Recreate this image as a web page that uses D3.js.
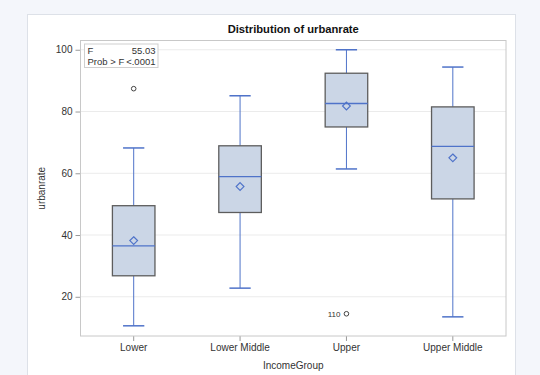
<!DOCTYPE html>
<html>
<head>
<meta charset="utf-8">
<script src="https://cdn.jsdelivr.net/npm/d3@7"></script>
<style>
  body { margin: 0; background: #f4f6fb; }
  svg { display: block; font-family: "Liberation Sans", Arial, sans-serif; }
</style>
</head>
<body>
<svg id="chart" width="540" height="375"></svg>
<script>
// income groups and their box stats
const groups = ["Lower", "Lower Middle", "Upper", "Upper Middle"];
const whiskerLow = [10.6, 22.8, 61.4, 13.5];
const q1 = [26.8, 47.3, 75.0, 51.7];
const median = [36.5, 58.9, 82.6, 68.7];
const q3 = [49.5, 68.9, 92.4, 81.5];
const whiskerHigh = [68.2, 85.1, 100, 94.4];
const means = [38.2, 55.7, 81.8, 65.0];
const outliers = [
  { group: "Lower", value: 87.4, label: "" },
  { group: "Upper", value: 14.5, label: "110" }
];
const yTicks = [20, 40, 60, 80, 100];
const statLines = [["F", "55.03"], ["Prob > F", "<.0001"]];

const boxes = groups.map((g, i) => ({
  group: g, lo: whiskerLow[i], q1: q1[i], med: median[i],
  q3: q3[i], hi: whiskerHigh[i], mean: means[i]
}));

const svg = d3.select("#chart");
const margin = { left: 80.5, top: 40.5, right: 34, bottom: 39 };
const width = 540 - margin.left - margin.right;
const height = 375 - margin.top - margin.bottom;
const blue = "#4f73c9";

// white panel behind the graph
svg.append("rect")
  .attr("x", 27.5).attr("y", 14.5)
  .attr("width", 488).attr("height", 370)
  .attr("fill", "#fff").attr("stroke", "#dde1e8");

const g = svg.append("g").attr("transform", `translate(${margin.left},${margin.top})`);

const x = d3.scaleBand().domain(groups).range([0, width]).padding(0);
const y = d3.scaleLinear().domain([7.3, 103]).range([height, 0]);

// grid
g.selectAll(".grid")
  .data(yTicks)
  .enter()
  .append("line")
  .attr("x1", 0).attr("x2", width)
  .attr("y1", d => y(d)).attr("y2", d => y(d))
  .attr("stroke", "#ebebeb");

// axes
const yAxis = g.append("g").call(d3.axisLeft(y).tickValues(yTicks).tickSize(5).tickPadding(3));
const xAxis = g.append("g").attr("transform", `translate(0,${height})`)
  .call(d3.axisBottom(x).tickSize(5).tickPadding(3));
[yAxis, xAxis].forEach(a => {
  a.select(".domain").remove();
  a.selectAll("line").attr("stroke", "#999");
  a.selectAll("text").attr("fill", "#333").style("font-size", "10px");
});

// plot frame
g.append("rect")
  .attr("width", width).attr("height", height)
  .attr("fill", "none").attr("stroke", "#c8c8c8");

const bw = x.bandwidth() * 0.4;
const cap = bw / 2;

const box = g.selectAll(".box")
  .data(boxes)
  .enter()
  .append("g")
  .attr("class", "box")
  .attr("transform", d => `translate(${x(d.group) + x.bandwidth() / 2},0)`);

// whiskers
box.append("line")
  .attr("x1", 0).attr("x2", 0)
  .attr("y1", d => y(d.hi)).attr("y2", d => y(d.q3))
  .attr("stroke", blue);
box.append("line")
  .attr("x1", 0).attr("x2", 0)
  .attr("y1", d => y(d.q1)).attr("y2", d => y(d.lo))
  .attr("stroke", blue);
box.append("line")
  .attr("x1", -cap / 2).attr("x2", cap / 2)
  .attr("y1", d => y(d.hi)).attr("y2", d => y(d.hi))
  .attr("stroke", blue).attr("stroke-width", 1.5);
box.append("line")
  .attr("x1", -cap / 2).attr("x2", cap / 2)
  .attr("y1", d => y(d.lo)).attr("y2", d => y(d.lo))
  .attr("stroke", blue).attr("stroke-width", 1.5);

// box
box.append("rect")
  .attr("x", -bw / 2).attr("width", bw)
  .attr("y", d => y(d.q3))
  .attr("height", d => y(d.q1) - y(d.q3))
  .attr("fill", "#cbd6e6")
  .attr("stroke", "#5d5d5d").attr("stroke-width", 1.3);

// median
box.append("line")
  .attr("x1", -bw / 2).attr("x2", bw / 2)
  .attr("y1", d => y(d.med)).attr("y2", d => y(d.med))
  .attr("stroke", blue).attr("stroke-width", 1.3);

// mean diamond
box.append("path")
  .attr("d", d3.symbol(d3.symbolDiamond2, 38))
  .attr("transform", d => `translate(0,${y(d.mean)})`)
  .attr("fill", "none").attr("stroke", blue).attr("stroke-width", 1.2);

// outliers
const out = g.selectAll(".outlier")
  .data(outliers)
  .enter()
  .append("g")
  .attr("transform", d => `translate(${x(d.group) + x.bandwidth() / 2},${y(d.value)})`);
out.append("circle").attr("r", 2.3).attr("fill", "none").attr("stroke", "#444");
out.append("text")
  .attr("x", -6).attr("dy", "0.35em")
  .attr("text-anchor", "end")
  .style("font-size", "8px").attr("fill", "#333")
  .text(d => d.label);

// stats inset
const inset = g.append("g").attr("transform", "translate(4,3.5)");
inset.append("rect")
  .attr("width", 73.5).attr("height", 23.5)
  .attr("fill", "#fff").attr("stroke", "#cfcfcf");
statLines.forEach((row, i) => {
  inset.append("text").attr("x", 3).attr("y", 9.5 + i * 11)
    .style("font-size", "9.5px").attr("fill", "#333").text(row[0]);
  inset.append("text").attr("x", 71).attr("y", 9.5 + i * 11)
    .attr("text-anchor", "end")
    .style("font-size", "9.5px").attr("fill", "#333").text(row[1]);
});

// titles
svg.append("text")
  .attr("x", margin.left + width / 2).attr("y", 33)
  .attr("text-anchor", "middle")
  .style("font-size", "11.2px").style("font-weight", "bold").attr("fill", "#111")
  .text("Distribution of urbanrate");

svg.append("text")
  .attr("transform", `translate(45,${margin.top + height / 2}) rotate(-90)`)
  .attr("text-anchor", "middle")
  .style("font-size", "10px").attr("fill", "#333")
  .text("urbanrate");

svg.append("text")
  .attr("x", margin.left + width / 2).attr("y", 369)
  .attr("text-anchor", "middle")
  .style("font-size", "10px").attr("fill", "#333")
  .text("IncomeGroup");
</script>
</body>
</html>
